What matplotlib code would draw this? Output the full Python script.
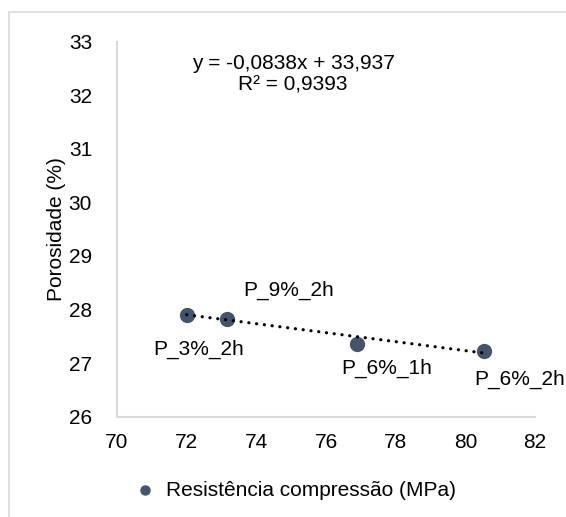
import numpy as np
import matplotlib.pyplot as plt
from matplotlib.patches import Rectangle

plt.rcParams['font.family'] = ['Liberation Sans', 'DejaVu Sans']

# dados
resistencia = [72.0, 73.15, 76.9, 80.55]      # MPa
porosidade = [27.90, 27.83, 27.36, 27.23]     # %
rotulos = ['P_3%_2h', 'P_9%_2h', 'P_6%_1h', 'P_6%_2h']
desloc = [(12, -34), (62, 28), (29, -25), (35, -29)]  # posicao dos rotulos (px)
coef_a, coef_b = -0.0838, 33.937
r2 = 0.9393
xticks = [70, 72, 74, 76, 78, 80, 82]
yticks = [26, 27, 28, 29, 30, 31, 32, 33]

cor = '#44546A'
cinza = '#D9D9D9'

fig = plt.figure(figsize=(5.66, 5.17), dpi=100)
fig.patches.append(Rectangle((9/566, -0.1), 1.2, 1 - 12/517 + 0.1, transform=fig.transFigure,
                             fill=False, edgecolor=cinza, linewidth=1.2))
ax = fig.add_axes([117/566, 1 - 416.7/517, 418/566, 375/517])

ax.scatter(resistencia, porosidade, s=100, color=cor, zorder=2, label='Resistência compressão (MPa)')

xl = np.array([min(resistencia), max(resistencia)])
ax.plot(xl, coef_a*xl + coef_b, color='black', linewidth=2.3,
        linestyle=(0, (0.05, 2.4)), dash_capstyle='round', zorder=3)

for x, y, r, d in zip(resistencia, porosidade, rotulos, desloc):
    ax.annotate(r, (x, y), xytext=d, textcoords='offset pixels',
                ha='center', va='center', fontsize=15)

ax.text(0.421, 0.943, 'y = -0,0838x + 33,937', transform=ax.transAxes,
        ha='center', va='center', fontsize=15)
ax.text(0.421, 0.885, 'R² = 0,9393', transform=ax.transAxes,
        ha='center', va='center', fontsize=15)

ax.set_xlim(70, 82)
ax.set_ylim(26, 33)
ax.set_xticks(xticks)
ax.set_yticks(yticks)
ax.tick_params(length=0, labelsize=15, pad=12)
ax.tick_params(axis='y', pad=18)
for s in ['top', 'right']:
    ax.spines[s].set_visible(False)
for s in ['left', 'bottom']:
    ax.spines[s].set_color(cinza)
    ax.spines[s].set_linewidth(1.5)

ax.set_ylabel('Porosidade (%)', fontsize=15, labelpad=2)

fig.legend(loc='center', bbox_to_anchor=(290/566, 1 - 490/517), frameon=False,
           fontsize=15, handletextpad=0.0, markerscale=0.65, borderpad=0)

plt.savefig('out.png', dpi=100)
